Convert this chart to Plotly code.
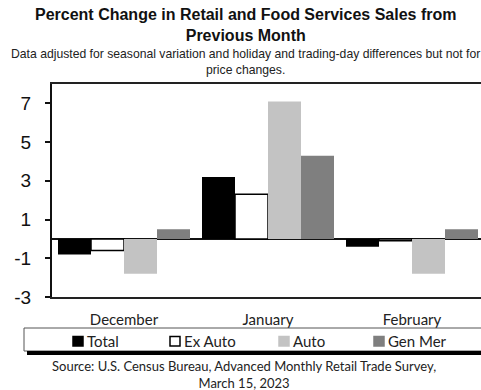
import plotly.graph_objects as go

months = ["December", "January", "February"]
total = [-0.8, 3.2, -0.4]
ex_auto = [-0.6, 2.3, -0.1]
auto = [-1.8, 7.1, -1.8]
gen_mer = [0.5, 4.3, 0.5]
y_ticks = [-3, -1, 1, 3, 5, 7]

W, H = 481, 390
L, R, T, B = 52, 0, 84, 93
PW, PH = W - L - R, H - T - B


def px(x):
    return (x - L) / PW


def py(y):
    return (H - B - y) / PH


fig = go.Figure()
fig.add_bar(name="Total", x=months, y=total, marker=dict(color="#000000", line=dict(width=0)))
fig.add_bar(name="Ex Auto", x=months, y=ex_auto,
            marker=dict(color="#ffffff", line=dict(color="#000000", width=1.5)))
fig.add_bar(name="Auto", x=months, y=auto, marker=dict(color="#c3c3c3", line=dict(width=0)))
fig.add_bar(name="Gen Mer", x=months, y=gen_mer, marker=dict(color="#7f7f7f", line=dict(width=0)))

label_font = "Lato, 'Open Sans', sans-serif"

fig.update_layout(
    width=W, height=H,
    margin=dict(l=L, r=R, t=T, b=B, pad=0),
    paper_bgcolor="white", plot_bgcolor="white",
    barmode="group", bargap=12 / 144, bargroupgap=0,
    showlegend=False,
    xaxis=dict(
        type="category", range=[-0.5, -0.5 + PW / 144],
        showline=True, linecolor="#222222", linewidth=2, mirror=True,
        ticks="", showgrid=False, ticklabelstandoff=8,
        tickfont=dict(family=label_font, size=15, color="#222222"),
    ),
    yaxis=dict(
        range=[-3, 8], tickvals=y_ticks, ticktext=[str(v) for v in y_ticks],
        showline=True, linecolor="#111111", linewidth=2, mirror=False,
        ticks="outside", ticklen=5, tickwidth=2, tickcolor="#111111",
        showgrid=False, zeroline=True, zerolinecolor="#111111", zerolinewidth=2,
        ticklabelstandoff=10,
        tickfont=dict(family="'Liberation Sans', Arial, sans-serif", size=19, color="#111111"),
    ),
    yaxis2=dict(
        range=[-3, 8], tickvals=y_ticks, overlaying="y", side="left",
        showticklabels=False, ticks="inside", ticklen=5, tickwidth=2, tickcolor="#111111",
        showgrid=False, zeroline=False, showline=False,
    ),
)

# Title and subtitle
fig.add_annotation(
    text="<b>Percent Change in Retail and Food Services Sales from<br>Previous Month</b>",
    xref="paper", yref="paper", x=px(245), y=py(25), xanchor="center", yanchor="middle",
    showarrow=False, font=dict(family="'Liberation Sans', Arial, sans-serif", size=16, color="#111111"),
)
fig.add_annotation(
    text="Data adjusted for seasonal variation and holiday and trading-day differences but not for<br>price changes.",
    xref="paper", yref="paper", x=px(245), y=py(62), xanchor="center", yanchor="middle",
    showarrow=False, font=dict(family="'Liberation Sans', Arial, sans-serif", size=12.2, color="#222222"),
)

# Legend box with shadow
fig.add_shape(type="rect", xref="paper", yref="paper",
              x0=px(24), x1=px(490), y0=py(351), y1=py(328),
              line=dict(color="#555555", width=1), fillcolor="white", layer="above")
fig.add_shape(type="line", xref="paper", yref="paper",
              x0=px(27), x1=px(490), y0=py(353), y1=py(353),
              line=dict(color="#000000", width=4), layer="above")

legend_items = [
    (73, "#000000", "#000000", "Total"),
    (170, "#ffffff", "#000000", "Ex Auto"),
    (279, "#c3c3c3", "#c3c3c3", "Auto"),
    (374, "#7f7f7f", "#7f7f7f", "Gen Mer"),
]
for x0, fill, edge, name in legend_items:
    fig.add_shape(type="rect", xref="paper", yref="paper",
                  x0=px(x0), x1=px(x0 + 10), y0=py(346), y1=py(336.5),
                  fillcolor=fill, line=dict(color=edge, width=1.5), layer="above")
    fig.add_annotation(
        text=name,
        xref="paper", yref="paper", x=px(x0 + 12), y=py(341), xanchor="left", yanchor="middle",
        showarrow=False, font=dict(family=label_font, size=15, color="#222222"),
    )

# Source
fig.add_annotation(
    text="Source: U.S. Census Bureau, Advanced Monthly Retail Trade Survey,<br>March 15, 2023",
    xref="paper", yref="paper", x=px(244), y=py(374), xanchor="center", yanchor="middle",
    showarrow=False, font=dict(family=label_font, size=13, color="#222222"),
)

fig.write_html("out.html")
